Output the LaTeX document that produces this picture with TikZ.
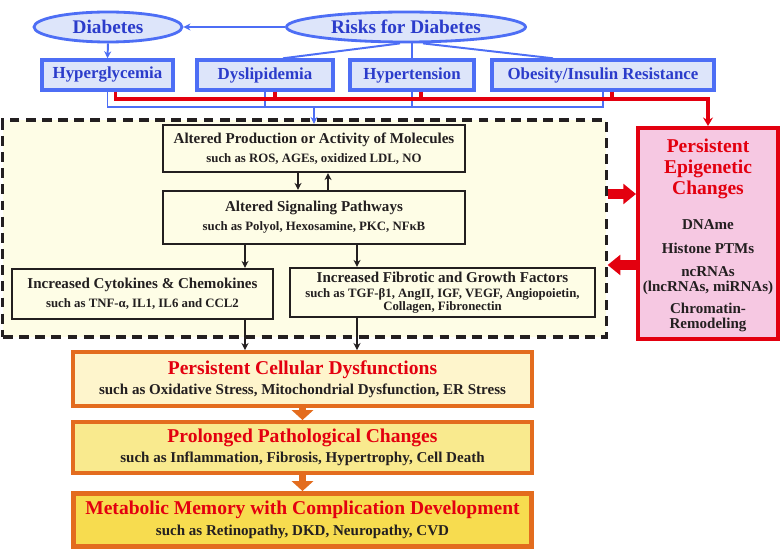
\documentclass[tikz,border=0pt]{standalone}
\usepackage{fontspec}
\setmainfont{Liberation Serif}
\usetikzlibrary{positioning, arrows.meta, shapes.geometric}

\definecolor{bblue}{HTML}{4D6EF5}
\definecolor{btext}{HTML}{2B3CCB}
\definecolor{bfill}{HTML}{DDE5FA}
\definecolor{rred}{HTML}{E3000F}
\definecolor{stageor}{HTML}{E36C1E}
\definecolor{ink}{HTML}{231F20}
\definecolor{zonefill}{HTML}{FEFDE6}
\definecolor{cellfill}{HTML}{FEF5CC}
\definecolor{prolfill}{HTML}{F9EA8E}
\definecolor{metafill}{HTML}{F7DC4F}
\definecolor{epifill}{HTML}{F6C8E2}

\newcommand\molhead{\fontsize{10.7}{13.5}\selectfont}
\newcommand\stagehead{\fontsize{13.9}{15}\selectfont\color{rred}}

\begin{document}
\begin{tikzpicture}[
    x=0.025cm, y=-0.025cm,
    riskell/.style={ellipse, draw=bblue, fill=bfill, line width=2pt, text=btext, inner sep=0pt, minimum height=0.75cm, font=\fontsize{13.7}{15}\selectfont\bfseries},
    riskbox/.style={rectangle, draw=bblue, fill=bfill, line width=2.4pt, text=btext, inner sep=0pt, minimum height=0.75cm, font=\fontsize{12}{14}\selectfont\bfseries},
    zonebox/.style={rectangle, draw=ink, fill=zonefill, line width=2.2pt, dash pattern=on 7pt off 4.5pt},
    molbox/.style={rectangle, draw=ink, fill=zonefill, line width=1.5pt, text=ink, align=center, inner sep=0pt, font=\fontsize{9.1}{13.5}\selectfont\bfseries},
    stagebox/.style={rectangle, draw=stageor, line width=2.8pt, text=ink, align=center, inner sep=0pt, minimum width=11.475cm, font=\fontsize{10.7}{14.5}\selectfont\bfseries},
    epibox/.style={rectangle, draw=rred, fill=epifill, line width=2.8pt, minimum width=3.5cm, minimum height=5.275cm},
    epitext/.style={align=center, text=ink, inner sep=0pt, font=\fontsize{10.7}{10.7}\selectfont\bfseries},
    blueline/.style={draw=bblue, line width=1.4pt},
    bluearrow/.style={blueline, -{Stealth[length=5pt, width=5pt]}},
    redline/.style={draw=rred, line width=2.4pt},
    blackarrow/.style={draw=ink, line width=1.2pt, -{Stealth[length=5pt, width=5pt]}},
    bigred/.style={draw=rred, line width=6.5pt, -{Triangle[length=9pt, width=14pt]}},
    stagearrow/.style={draw=stageor, line width=4.5pt, -{Triangle[length=7pt, width=15pt]}}
]
\useasboundingbox (0,0) rectangle (780,557);

% Risks
\node[riskell, minimum width=3.7cm] (diab) at (108,27) {Diabetes};
\node[riskell, minimum width=5.975cm] (risk) at (406,27) {Risks for Diabetes};
\node[riskbox, minimum width=3.275cm] (hyper) at (107.5,75) {Hyperglycemia};
\node[riskbox, minimum width=3.4cm] (dysl) at (265,75) {Dyslipidemia};
\node[riskbox, minimum width=3.1cm] (hypt) at (412,75) {Hypertension};
\node[riskbox, minimum width=5.55cm] (obes) at (603,75) {Obesity/Insulin Resistance};

\draw[bluearrow] (risk.west) -- (diab.east);
\draw[bluearrow] (diab.south) -- (hyper.north);
\draw[blueline] ([xshift=-0.15cm]risk.south) -- ([xshift=0.45cm]dysl.north);
\draw[blueline] (risk.south -| hypt.north) -- (hypt.north);
\draw[blueline] ([xshift=0.425cm]risk.south) -- ([xshift=-1.25cm]obes.north);

% Zone of molecules and pathways
\node[zonebox, minimum width=15.075cm, minimum height=5.425cm] (zone) at (304.5,228.5) {};

\node[molbox, minimum width=7.55cm, minimum height=1.175cm] (prod) at (314,148.5)
    {{\molhead Altered Production or Activity of Molecules}\\such as ROS, AGEs, oxidized LDL, NO};
\node[molbox, minimum width=7.55cm, minimum height=1.325cm] (sig) at (314,217.5)
    {{\molhead Altered Signaling Pathways}\\such as Polyol, Hexosamine, PKC, NFκB};
\node[molbox, minimum width=6.525cm, minimum height=1.25cm] (cyto) at (142.5,294)
    {{\molhead Increased Cytokines \& Chemokines}\\such as TNF-α, IL1, IL6 and CCL2};
\node[molbox, minimum width=7.625cm, minimum height=1.225cm, font=\fontsize{9.1}{9.4}\selectfont\bfseries] (fibro) at (442.5,292.5)
    {{\molhead Increased Fibrotic and Growth Factors}\\[1.5pt]such as TGF-β1, AngII, IGF, VEGF, Angiopoietin,\\Collagen, Fibronectin};

% Epigenetics
\node[epibox] (epi) at (708,233.5) {};
\node[epitext, text=rred, font=\fontsize{13.9}{15}\selectfont\bfseries] (epititle) at (708,169) {Persistent\\Epigenetic\\Changes};
\node[epitext] (dname) at (708,225) {DNAme};
\node[epitext] (histone) at (708,248) {Histone PTMs};
\node[epitext] (ncrna) at (708,280.5) {ncRNAs\\(lncRNAs, miRNAs)};
\node[epitext] (chrom) at (708,317.5) {Chromatin-\\Remodeling};

% Stages
\node[stagebox, fill=cellfill, minimum height=1.35cm] (cell) at (302.5,379)
    {{\stagehead Persistent Cellular Dysfunctions}\\such as Oxidative Stress, Mitochondrial Dysfunction, ER Stress};
\node[stagebox, fill=prolfill, minimum height=1.275cm] (prol) at (302.5,447.5)
    {{\stagehead Prolonged Pathological Changes}\\such as Inflammation, Fibrosis, Hypertrophy, Cell Death};
\node[stagebox, fill=metafill, minimum height=1.35cm] (meta) at (302.5,520)
    {{\stagehead Metabolic Memory with Complication Development}\\such as Retinopathy, DKD, Neuropathy, CVD};
\draw[stageor, line width=0.6pt] ([shift={(3.2pt,-3.2pt)}]meta.north west) rectangle ([shift={(-3.2pt,3.2pt)}]meta.south east);

% Blue bus
\coordinate (bbus) at (0,107);
\draw[blueline] (hyper.south) -- (hyper.south |- bbus) -- (obes.south |- bbus) -- (obes.south);
\draw[blueline] (dysl.south) -- (dysl.south |- bbus);
\draw[blueline] (hypt.south) -- (hypt.south |- bbus);
\draw[bluearrow] (prod.north |- bbus) -- (prod.north);

% Red bus
\coordinate (rbus) at (0,99);
\coordinate (r1) at ([xshift=0.2cm]hyper.south);
\coordinate (r2) at ([xshift=0.25cm]dysl.south);
\coordinate (r3) at ([xshift=0.225cm]hypt.south);
\coordinate (r4) at ([xshift=0.225cm]obes.south);
\draw[redline, -{Stealth[length=6pt, width=7pt]}] (r1) |- (epi.north |- rbus) -- (epi.north);
\draw[redline] (r2) -- (r2 |- rbus);
\draw[redline] (r3) -- (r3 |- rbus);
\draw[redline] (r4) -- (r4 |- rbus);

% Edges
\draw[blackarrow] ([xshift=-0.4cm]prod.south) -- ([xshift=-0.4cm]sig.north);
\draw[blackarrow] ([xshift=0.35cm]sig.north) -- ([xshift=0.35cm]prod.south);
\draw[blackarrow] (245,0 |- sig.south) -- (245,0 |- cyto.north);
\draw[blackarrow] (357,0 |- sig.south) -- (357,0 |- fibro.north);
\draw[blackarrow] (245,0 |- cyto.south) -- (245,0 |- cell.north);
\draw[blackarrow] (357,0 |- fibro.south) -- (357,0 |- cell.north);
\draw[bigred] (zone.east |- 0,194) -- (epi.west |- 0,194);
\draw[bigred] (epi.west |- 0,265) -- (zone.east |- 0,265);
\draw[stagearrow] (cell.south) -- (prol.north);
\draw[stagearrow] (prol.south) -- (meta.north);

\end{tikzpicture}
\end{document}
